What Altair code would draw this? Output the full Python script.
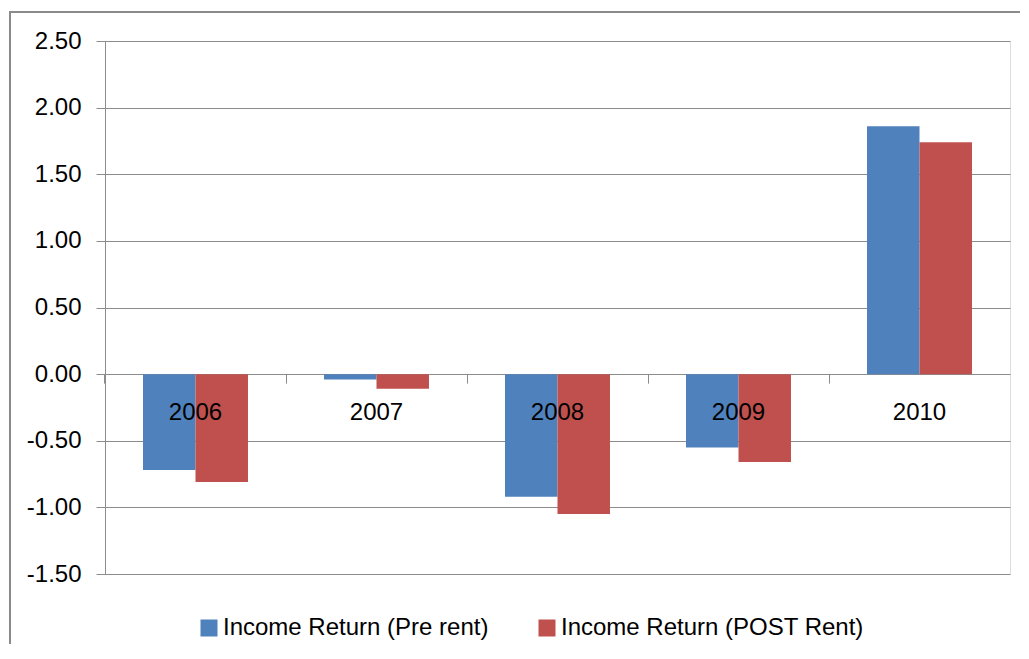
import altair as alt
import pandas as pd

# ---- data ----
years = ["2006", "2007", "2008", "2009", "2010"]
pre_rent = [-0.72, -0.04, -0.92, -0.55, 1.86]
post_rent = [-0.81, -0.11, -1.05, -0.66, 1.74]
series_names = ["Income Return (Pre rent)", "Income Return (POST Rent)"]
series_colors = ["#4F81BD", "#C0504D"]
y_ticks = [-1.5, -1.0, -0.5, 0.0, 0.5, 1.0, 1.5, 2.0, 2.5]
y_domain = [-1.5, 2.5]

rows = []
for i, yr in enumerate(years):
    rows.append({"year": yr, "series": series_names[0], "value": pre_rent[i]})
    rows.append({"year": yr, "series": series_names[1], "value": post_rent[i]})
df = pd.DataFrame(rows)

W, H = 905, 533
FONT = "Liberation Sans"
GRID = "#8c8c8c"
P_INNER, P_OUTER = 0.42, 0.21

# x axis sits on the zero line
zero_offset = -H * (0 - y_domain[0]) / (y_domain[1] - y_domain[0])
# ticks at the category boundaries (middle of the gap between groups)
tick_band = -(P_INNER / 2) / (1 - P_INNER)

frame = alt.Chart(pd.DataFrame({"k": [0]})).mark_rect(
    fillOpacity=0, stroke="#8a8a8a", strokeWidth=2
).encode(
    x=alt.value(-95), x2=alt.value(W + 80),
    y=alt.value(-29), y2=alt.value(H + 200)
)

bars = alt.Chart(df).mark_bar().encode(
    x=alt.X(
        "year:N", sort=years, title=None,
        scale=alt.Scale(paddingInner=P_INNER, paddingOuter=P_OUTER),
        axis=alt.Axis(
            orient="bottom", offset=zero_offset, domain=False,
            bandPosition=tick_band, tickSize=9, tickColor=GRID,
            labelPadding=17, labelFontSize=24, labelFont=FONT,
            labelColor="#000000", labelAngle=0, zindex=1, grid=False,
        ),
    ),
    xOffset=alt.XOffset("series:N", sort=series_names),
    y=alt.Y(
        "value:Q", title=None,
        scale=alt.Scale(domain=y_domain, nice=False, zero=False),
        axis=alt.Axis(
            values=y_ticks,
            labelExpr="replace(format(datum.value, '.2f'), '\u2212', '-')",
            domainColor=GRID, tickColor=GRID, tickSize=9,
            labelPadding=15, labelFontSize=24, labelFont=FONT,
            labelColor="#000000", grid=True, gridColor=GRID,
        ),
    ),
    color=alt.Color(
        "series:N",
        scale=alt.Scale(domain=series_names, range=series_colors),
        legend=alt.Legend(
            orient="none", legendX=92, legendY=575, direction="horizontal",
            title=None, symbolType="square", symbolSize=289,
            symbolStrokeWidth=0, labelFontSize=24, labelFont=FONT,
            labelColor="#000000", labelOffset=2, columnPadding=46,
            padding=0, labelLimit=400,
        ),
    ),
)

chart = alt.layer(frame, bars).properties(
    width=W, height=H,
    autosize=alt.AutoSizeParams(type="none"),
    padding={"left": 97, "top": 33, "right": 10, "bottom": 70},
).configure_view(stroke=None).configure(background="white")

chart.save("out.html", embed_options={"renderer": "svg", "actions": False})
